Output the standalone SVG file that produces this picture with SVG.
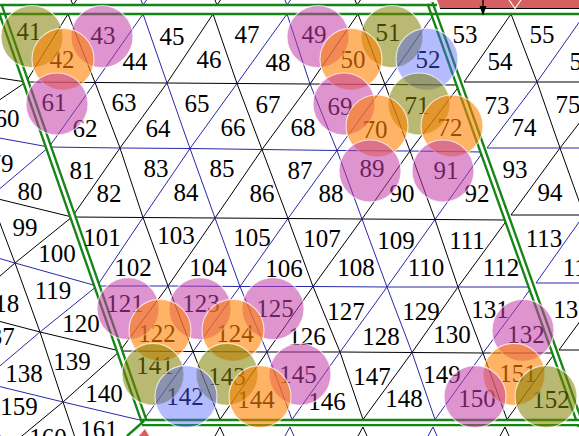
<svg xmlns="http://www.w3.org/2000/svg" width="579" height="436" viewBox="0 0 579 436">
<style>
.k{stroke:#000;stroke-width:1;fill:none}
.b{stroke:#2828a8;stroke-width:1;fill:none}
.gd{stroke:#158515;stroke-width:7.5;fill:none}
.gw{stroke:#fff;stroke-width:2.8;fill:none}
.gs{stroke:#158515;stroke-width:2.4;fill:none}
text{font-family:"Liberation Serif","Times New Roman",serif;font-size:25px;text-anchor:middle;fill:#000}
.c{stroke:#fff;stroke-opacity:.7;stroke-width:1.2}
.mg{fill:#c23ca8;fill-opacity:.55}
.or{fill:#ff8000;fill-opacity:.6}
.ol{fill:#808000;fill-opacity:.55}
.bl{fill:#4d5cff;fill-opacity:.42}
</style>
<rect width="579" height="436" fill="#fff"/>
<g id="connectors">
<g class="k">
<polyline points="26,82 95,82.5 167,83 237,83.5 310,84 385,84.5 460,85"/>
<polyline points="464,82 537,82 611,82 684,82"/>
<polyline points="-60,69 26,82"/>
<polyline points="72,217 143,217.5 215,218 288,218.5 362,219 435,219.5 507,220"/>
<polyline points="511,215 584,215 657,215"/>
<polyline points="-88,175 -10,197 72,217"/>
<polyline points="120,351 193,351.5 267,352 340,352 412,352.5 483,353 555,353"/>
<polyline points="559,350 630,350 703,350"/>
<polyline points="-40,311 40,332 120,351"/>
<polyline points="68,14 95,82.5 120,148 143,217.5 168,286 193,351.5 220,419.5"/>
<polyline points="213,14 237,83.5 262,149.5 288,218.5 313,286.5 340,352 363,419.5"/>
<polyline points="358,14 385,84.5 410,151 435,219.5 458,287 483,353 507,419.5"/>
<polyline points="511,14 537,82 560,148 584,215 608,283 630,350 654,419.5"/>
<polyline points="-45,130 -10,197 15,263 40,332 63,402 86,470"/>
<polyline points="68,14 26,82 -45,130"/>
<polyline points="213,14 167,83 120,148 72,217 15,263 -40,311"/>
<polyline points="358,14 310,84 262,149.5 215,218 168,286 120,351 63,402 5,450"/>
<polyline points="511,14 464,82"/>
<polyline points="460,85 410,151 362,219 313,286.5 267,352 220,419.5"/>
<polyline points="658,14 611,82 560,148 511,215"/>
<polyline points="507,220 458,287 412,352.5 363,419.5"/>
<polyline points="707,148 657,215 608,283 559,350"/>
<polyline points="555,353 507,419.5"/>
<path d="M71,0 L73,5 L76.5,0 M215,0 L217,5 L220.5,0 M355,0 L357,5 L360.5,0"/>
<path d="M215,436 L220,427 L224,436 M358,436 L363,427 L367,436 M500,436 L505,427 L509,436"/>
</g>
<g class="b">
<polyline points="49,147 120,148 190,148.5 262,149.5 337,150.5 410,151 483,152"/>
<polyline points="487,148 560,148 634,148 707,148"/>
<polyline points="-45,130 49,147"/>
<polyline points="97,286 168,286 240,286.5 313,286.5 387,287 458,287 532,287"/>
<polyline points="536,283 608,283 681,283"/>
<polyline points="-64,240 15,263 97,286"/>
<polyline points="-19,382 63,402 144,421"/>
<polyline points="143,14 167,83 190,148.5 215,218 240,286.5 267,352 292,419.5"/>
<polyline points="287,14 310,84 337,150.5 362,219 387,287 412,352.5 435,419.5"/>
<polyline points="585,14 611,82 634,148 657,215 681,283 703,350"/>
<polyline points="-88,175 -64,240 -40,311 -19,382 5,450"/>
<polyline points="143,14 95,82.5 49,147 -10,197 -64,240"/>
<polyline points="287,14 237,83.5 190,148.5 143,217.5 97,286 40,332 -19,382"/>
<polyline points="434,14 385,84.5 337,150.5 288,218.5 240,286.5 193,351.5 144,419.5"/>
<polyline points="585,14 537,82 487,148"/>
<polyline points="483,152 435,219.5 387,287 340,352 292,419.5"/>
<polyline points="684,82 634,148 584,215 536,283"/>
<polyline points="532,287 483,353 435,419.5"/>
<polyline points="730,215 681,283 630,350 583,419.5"/>
<path d="M141,0 L143,5 L146.5,0 M285,0 L287,5 L290.5,0"/>
<path d="M285,436 L290,427 L294,436 M428,436 L433,427 L437,436"/>
</g>
<g id="boundaries">
<path class="gd" d="M-1,5 L144,421"/>
<path class="gw" d="M-1,5 L144,421"/>
<path class="gd" d="M430,3 L581,426"/>
<path class="gw" d="M430,3 L581,426"/>
<path class="gd" d="M142,422.6 L585,422.6"/>
<path class="gw" d="M142,422.6 L585,422.6"/>
<path class="gs" d="M-5,14 L585,14"/>
<path class="gs" d="M-5,5 L437,5"/>
<path class="gs" d="M144,421 L127,436"/>
</g>
<g id="marks">
<polygon points="437,0 579,0 579,8.5 440,8.5" fill="#d66060"/>
<path d="M440,8.5 L579,8.5" stroke="#000" stroke-width="1"/>
<path d="M509,0 L515,8.5 L521,0" stroke="#fff" stroke-width="1.2" fill="none"/>
<path d="M483,0 V9" stroke="#000" stroke-width="1.3"/>
<polygon points="479.5,6 486.5,6 483,15.5" fill="#000"/>
<polygon points="139,436 145,429 149,436" fill="#d66060"/>
</g>
</g>
<g id="labels">
<g id="t41"><text x="29" y="39.5">41</text></g>
<g id="t42"><text x="62" y="67.5">42</text></g>
<g id="t43"><text x="103" y="43.5">43</text></g>
<g id="t44"><text x="135" y="69.5">44</text></g>
<g id="t45"><text x="172" y="44.5">45</text></g>
<g id="t46"><text x="209" y="67.5">46</text></g>
<g id="t47"><text x="247" y="42.5">47</text></g>
<g id="t48"><text x="278" y="70.5">48</text></g>
<g id="t49"><text x="314" y="42.5">49</text></g>
<g id="t50"><text x="353" y="67.5">50</text></g>
<g id="t51"><text x="388" y="40.5">51</text></g>
<g id="t52"><text x="428" y="67.5">52</text></g>
<g id="t53"><text x="465" y="42.5">53</text></g>
<g id="t54"><text x="500" y="69.5">54</text></g>
<g id="t55"><text x="542" y="42.5">55</text></g>
<g id="t56"><text x="582" y="69.5">56</text></g>
<g id="t60"><text x="7" y="126.5">60</text></g>
<g id="t61"><text x="54" y="110.5">61</text></g>
<g id="t62"><text x="85" y="136.5">62</text></g>
<g id="t63"><text x="124" y="110.5">63</text></g>
<g id="t64"><text x="158" y="136.5">64</text></g>
<g id="t65"><text x="197" y="111.5">65</text></g>
<g id="t66"><text x="233" y="135.5">66</text></g>
<g id="t67"><text x="268" y="112.5">67</text></g>
<g id="t68"><text x="303" y="135.5">68</text></g>
<g id="t69"><text x="340" y="114.5">69</text></g>
<g id="t70"><text x="375" y="137.5">70</text></g>
<g id="t71"><text x="417" y="113.5">71</text></g>
<g id="t72"><text x="450" y="135.5">72</text></g>
<g id="t73"><text x="497" y="113.5">73</text></g>
<g id="t74"><text x="524" y="135.5">74</text></g>
<g id="t75"><text x="568" y="112.5">75</text></g>
<g id="t79"><text x="1" y="171.5">79</text></g>
<g id="t80"><text x="30" y="199.5">80</text></g>
<g id="t81"><text x="82" y="178.5">81</text></g>
<g id="t82"><text x="109" y="201.5">82</text></g>
<g id="t83"><text x="156" y="176.5">83</text></g>
<g id="t84"><text x="186" y="200.5">84</text></g>
<g id="t85"><text x="222" y="176.5">85</text></g>
<g id="t86"><text x="262" y="201.5">86</text></g>
<g id="t87"><text x="300" y="178.5">87</text></g>
<g id="t88"><text x="331" y="201.5">88</text></g>
<g id="t89"><text x="372" y="176.5">89</text></g>
<g id="t90"><text x="402" y="201.5">90</text></g>
<g id="t91"><text x="446" y="178.5">91</text></g>
<g id="t92"><text x="477" y="201.5">92</text></g>
<g id="t93"><text x="515" y="177.5">93</text></g>
<g id="t94"><text x="550" y="200.5">94</text></g>
<g id="t99"><text x="25" y="235.5">99</text></g>
<g id="t100"><text x="57" y="261.5">100</text></g>
<g id="t101"><text x="102" y="245.5">101</text></g>
<g id="t102"><text x="133" y="275.5">102</text></g>
<g id="t103"><text x="176" y="243.5">103</text></g>
<g id="t104"><text x="208" y="275.5">104</text></g>
<g id="t105"><text x="252" y="245.5">105</text></g>
<g id="t106"><text x="284" y="276.5">106</text></g>
<g id="t107"><text x="322" y="246.5">107</text></g>
<g id="t108"><text x="356" y="275.5">108</text></g>
<g id="t109"><text x="396" y="248.5">109</text></g>
<g id="t110"><text x="426" y="275.5">110</text></g>
<g id="t111"><text x="467" y="248.5">111</text></g>
<g id="t112"><text x="501" y="275.5">112</text></g>
<g id="t113"><text x="544" y="246.5">113</text></g>
<g id="t114"><text x="581" y="275.5">114</text></g>
<g id="t118"><text x="1" y="311.5">118</text></g>
<g id="t119"><text x="53" y="298.5">119</text></g>
<g id="t120"><text x="81" y="331.5">120</text></g>
<g id="t121"><text x="125" y="311.5">121</text></g>
<g id="t122"><text x="157" y="341.5">122</text></g>
<g id="t123"><text x="201" y="311.5">123</text></g>
<g id="t124"><text x="235" y="341.5">124</text></g>
<g id="t125"><text x="275" y="316.5">125</text></g>
<g id="t126"><text x="307" y="344.5">126</text></g>
<g id="t127"><text x="346" y="319.5">127</text></g>
<g id="t128"><text x="381" y="344.5">128</text></g>
<g id="t129"><text x="421" y="319.5">129</text></g>
<g id="t130"><text x="452" y="342.5">130</text></g>
<g id="t131"><text x="490" y="317.5">131</text></g>
<g id="t132"><text x="526" y="342.5">132</text></g>
<g id="t133"><text x="572" y="317.5">133</text></g>
<g id="t137"><text x="-4" y="344.5">137</text></g>
<g id="t138"><text x="24" y="381.5">138</text></g>
<g id="t139"><text x="72" y="369.5">139</text></g>
<g id="t140"><text x="104" y="401.5">140</text></g>
<g id="t141"><text x="155" y="373.5">141</text></g>
<g id="t142"><text x="185" y="404.5">142</text></g>
<g id="t143"><text x="227" y="384.5">143</text></g>
<g id="t144"><text x="256" y="407.5">144</text></g>
<g id="t145"><text x="298" y="382.5">145</text></g>
<g id="t146"><text x="327" y="409.5">146</text></g>
<g id="t147"><text x="372" y="384.5">147</text></g>
<g id="t148"><text x="404" y="406.5">148</text></g>
<g id="t149"><text x="442" y="382.5">149</text></g>
<g id="t150"><text x="477" y="406.5">150</text></g>
<g id="t151"><text x="518" y="381.5">151</text></g>
<g id="t152"><text x="551" y="407.5">152</text></g>
<g id="t159"><text x="19" y="414.5">159</text></g>
<g id="t160"><text x="48" y="446">160</text></g>
<g id="t161"><text x="99" y="437.5">161</text></g>
</g>
<g id="markers">
<circle id="c41" class="c ol" cx="32" cy="36.7" r="31"/>
<circle id="c43" class="c mg" cx="102" cy="36.7" r="31"/>
<circle id="c42" class="c or" cx="63" cy="59.3" r="31"/>
<circle id="c61" class="c mg" cx="57" cy="104" r="31"/>
<circle id="c49" class="c mg" cx="318" cy="36.7" r="31"/>
<circle id="c51" class="c ol" cx="392" cy="36.7" r="31"/>
<circle id="c50" class="c or" cx="351" cy="59.3" r="31"/>
<circle id="c52" class="c bl" cx="427" cy="59.3" r="31"/>
<circle id="c69" class="c mg" cx="344" cy="104" r="31"/>
<circle id="c71" class="c ol" cx="419" cy="104" r="31"/>
<circle id="c70" class="c or" cx="377" cy="126" r="31"/>
<circle id="c72" class="c or" cx="452" cy="126" r="31"/>
<circle id="c89" class="c mg" cx="370" cy="171" r="31"/>
<circle id="c91" class="c mg" cx="443" cy="171" r="31"/>
<circle id="c121" class="c mg" cx="128" cy="308.7" r="31"/>
<circle id="c123" class="c mg" cx="200" cy="308.7" r="31"/>
<circle id="c125" class="c mg" cx="273" cy="308.7" r="31"/>
<circle id="c122" class="c or" cx="160" cy="330.3" r="31"/>
<circle id="c124" class="c or" cx="233" cy="330.3" r="31"/>
<circle id="c132" class="c mg" cx="523" cy="330.3" r="31"/>
<circle id="c141" class="c ol" cx="153" cy="374.3" r="31"/>
<circle id="c143" class="c ol" cx="227" cy="374.3" r="31"/>
<circle id="c145" class="c mg" cx="300" cy="374.3" r="31"/>
<circle id="c142" class="c bl" cx="186" cy="396.7" r="31"/>
<circle id="c144" class="c or" cx="260" cy="396.7" r="31"/>
<circle id="c151" class="c or" cx="514" cy="374.3" r="31"/>
<circle id="c150" class="c mg" cx="475" cy="396.7" r="31"/>
<circle id="c152" class="c ol" cx="546" cy="396.7" r="31"/>
</g>
</svg>
